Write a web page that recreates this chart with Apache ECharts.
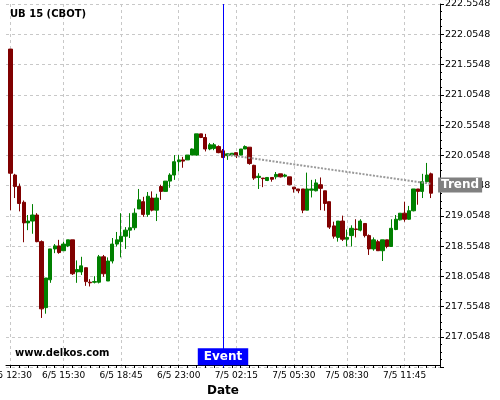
<!DOCTYPE html>
<html>
<head>
<meta charset="utf-8">
<script src="https://cdn.jsdelivr.net/npm/echarts@6/dist/echarts.min.js"></script>
<style>
  html, body { margin: 0; padding: 0; background: #fff; }
  #chart { width: 500px; height: 400px; }
</style>
</head>
<body>
<div id="chart"></div>
<script>
// 15 minute bars
const opens = [
  221.81, 219.73, 219.54, 219.28, 218.94, 218.97, 219.07, 218.63, 217.54, 218.00,
  218.51, 218.56, 218.48, 218.56, 218.66, 218.13, 218.13, 218.20, 217.96, 217.96,
  217.96, 218.38, 217.98, 218.31, 218.59, 218.63, 218.72, 218.82, 218.86, 219.17,
  219.29, 219.08, 219.35, 219.15, 219.54, 219.46, 219.63, 219.73, 219.95, 219.98,
  219.98, 220.06, 220.06, 220.41, 220.35, 220.16, 220.17, 220.20, 220.13, 220.05,
  220.06, 220.10, 220.06, 220.16, 220.19, 219.89, 219.69, 219.68, 219.64, 219.69,
  219.70, 219.75, 219.71, 219.70, 219.53, 219.50, 219.50, 219.15, 219.48, 219.47,
  219.57, 219.47, 219.29, 218.89, 218.70, 218.97, 218.67, 218.73, 218.84, 218.82,
  218.93, 218.73, 218.51, 218.63, 218.48, 218.66, 218.55, 218.83, 218.99, 219.10,
  219.00, 219.14, 219.50, 219.46, 219.62, 219.75
];
const closes = [
  219.76, 219.54, 219.26, 218.94, 218.97, 219.07, 218.63, 217.52, 218.03, 218.51,
  218.56, 218.45, 218.59, 218.66, 218.10, 218.17, 218.23, 217.97, 217.95, 217.97,
  218.38, 218.10, 218.31, 218.59, 218.66, 218.72, 218.82, 218.86, 219.10, 219.32,
  219.08, 219.38, 219.15, 219.35, 219.46, 219.63, 219.73, 219.95, 219.98, 219.96,
  220.06, 220.16, 220.41, 220.35, 220.16, 220.23, 220.23, 220.10, 220.02, 220.08,
  220.09, 220.05, 220.16, 220.20, 219.92, 219.68, 219.71, 219.67, 219.69, 219.66,
  219.74, 219.70, 219.73, 219.57, 219.50, 219.47, 219.15, 219.50, 219.50, 219.60,
  219.51, 219.26, 218.87, 218.72, 218.97, 218.67, 218.70, 218.85, 218.83, 218.97,
  218.73, 218.51, 218.66, 218.48, 218.66, 218.55, 218.85, 219.00, 219.10, 219.00,
  219.14, 219.50, 219.46, 219.62, 219.73, 219.43
];
const lows = [
  219.15, 219.35, 219.13, 218.62, 218.82, 218.76, 218.62, 217.37, 217.44, 217.95,
  218.44, 218.43, 218.48, 218.54, 218.08, 217.95, 218.08, 217.90, 217.89, 217.94,
  217.94, 218.05, 217.98, 218.27, 218.55, 218.37, 218.51, 218.69, 218.82, 219.17,
  219.04, 219.04, 219.13, 218.97, 219.32, 219.46, 219.52, 219.65, 219.79, 219.85,
  219.98, 220.06, 220.05, 220.34, 220.12, 220.14, 220.14, 220.09, 220.01, 219.98,
  220.04, 220.01, 220.06, 220.16, 219.90, 219.65, 219.50, 219.53, 219.63, 219.62,
  219.66, 219.69, 219.69, 219.56, 219.44, 219.43, 219.10, 219.15, 219.36, 219.46,
  219.15, 219.14, 218.84, 218.68, 218.63, 218.64, 218.55, 218.55, 218.70, 218.80,
  218.70, 218.41, 218.48, 218.48, 218.31, 218.52, 218.55, 218.82, 218.98, 218.96,
  218.99, 219.13, 219.24, 219.35, 219.59, 219.35
];
const highs = [
  221.81, 219.75, 219.59, 219.31, 219.07, 219.25, 219.10, 218.65, 218.03, 218.51,
  218.59, 218.66, 218.63, 218.66, 218.66, 218.32, 218.38, 218.20, 218.01, 218.06,
  218.41, 218.41, 218.37, 218.69, 218.79, 219.10, 218.87, 219.10, 219.18, 219.50,
  219.37, 219.45, 219.46, 219.42, 219.57, 219.63, 219.76, 220.06, 220.06, 220.03,
  220.06, 220.17, 220.41, 220.41, 220.41, 220.26, 220.26, 220.22, 220.16, 220.09,
  220.09, 220.10, 220.16, 220.22, 220.19, 219.90, 219.76, 219.68, 219.69, 219.69,
  219.78, 219.75, 219.75, 219.70, 219.53, 219.50, 219.50, 219.77, 219.65, 219.66,
  219.69, 219.47, 219.29, 218.96, 218.97, 219.06, 218.83, 218.90, 219.00, 219.00,
  218.93, 218.75, 218.70, 218.66, 218.66, 218.66, 219.00, 219.07, 219.10, 219.29,
  219.22, 219.50, 219.50, 219.75, 219.93, 219.77
];

// slot 0 is empty, bars sit in slots 1..96, two empty slots at the end
const slotCount = 99;
const tickIdx = [1, 13, 26, 39, 52, 65, 77, 90];
const tickLabels = ['6/5 12:30', '6/5 15:30', '6/5 18:45', '6/5 23:00',
                    '7/5 02:15', '7/5 05:30', '7/5 08:30', '7/5 11:45'];
const yMin = 216.5548, yMax = 222.5548, yStep = 0.5;

const eventIdx = 49;
const trendStart = [50, 220.066];
const trendEnd = [96, 219.583];

const categories = Array.from({length: slotCount}, (_, i) => String(i));
const empty = ['-', '-', '-', '-'];
const candles = [empty];
opens.forEach((o, i) => candles.push([o, closes[i], lows[i], highs[i]]));
while (candles.length < slotCount) candles.push(empty);

const font = 'DejaVu Sans';
const gridLine = { color: '#c8c8c8', type: [3, 3], width: 1 };
const yOffset = 0.0548;

const chart = echarts.init(document.getElementById('chart'));
chart.setOption({
  animation: false,
  backgroundColor: '#fff',
  title: [
    { text: 'UB 15 (CBOT)', left: 10, top: 9, padding: 0,
      textStyle: { fontFamily: font, fontSize: 10, fontWeight: 'bold', color: '#000' } },
    { text: 'www.delkos.com', left: 15, top: 348, padding: 0,
      textStyle: { fontFamily: font, fontSize: 10, fontWeight: 'bold', color: '#000' } }
  ],
  grid: { left: 6, right: 60, top: 4, bottom: 32.7, outerBoundsMode: 'none', containLabel: false },
  xAxis: {
    type: 'category',
    data: categories,
    boundaryGap: false,
    offset: -2.3,
    name: 'Date',
    nameLocation: 'middle',
    nameGap: 19,
    nameTextStyle: { fontFamily: font, fontSize: 12, fontWeight: 'bold', color: '#000' },
    axisLine: { lineStyle: { color: '#000', width: 1 } },
    axisTick: { interval: (i) => i % 2 === 1, length: 3, lineStyle: { color: '#000' } },
    axisLabel: {
      interval: (i) => tickIdx.includes(i),
      formatter: (v) => tickLabels[tickIdx.indexOf(Number(v))] || '',
      fontFamily: font, fontSize: 9, color: '#000', margin: 6
    },
    splitLine: { show: true, interval: (i) => tickIdx.includes(i), lineStyle: gridLine }
  },
  yAxis: {
    type: 'value',
    position: 'right',
    min: yMin,
    max: yMax,
    interval: yStep,
    axisLine: { show: true, lineStyle: { color: '#000', width: 1 } },
    axisTick: { show: true, length: 4, lineStyle: { color: '#000' } },
    minorTick: { show: true, splitNumber: 4, length: 2, lineStyle: { color: '#000' } },
    axisLabel: {
      showMinLabel: false,
      formatter: (v) => (Math.round((v - yOffset) / yStep) * yStep + yOffset).toFixed(4),
      fontFamily: font, fontSize: 9.5, color: '#000', margin: 5
    },
    splitLine: { show: true, lineStyle: gridLine }
  },
  series: [{
    type: 'candlestick',
    data: candles,
    barWidth: 3.8,
    itemStyle: {
      color: '#008000', color0: '#800000',
      borderColor: '#008000', borderColor0: '#800000', borderWidth: 1
    },
    markLine: {
      silent: true,
      animation: false,
      symbol: ['none', 'none'],
      data: [
        {
          xAxis: eventIdx,
          lineStyle: { color: '#0000ff', width: 1, type: 'solid' },
          label: {
            show: true, position: 'start', distance: -19,
            formatter: 'Event', color: '#fff', backgroundColor: '#0000ff',
            fontFamily: font, fontSize: 12, fontWeight: 'bold', padding: [3, 6, 2, 6]
          }
        },
        [
          {
            coord: trendStart,
            lineStyle: { color: '#999', width: 2, type: [2, 1.5] },
            label: {
              show: true, position: 'end', distance: 7,
              formatter: 'Trend', color: '#fff', backgroundColor: '#808080',
              fontFamily: font, fontSize: 12, fontWeight: 'bold', padding: [2, 3, 1, 3]
            }
          },
          { coord: trendEnd }
        ]
      ]
    }
  }]
});
</script>
</body>
</html>
